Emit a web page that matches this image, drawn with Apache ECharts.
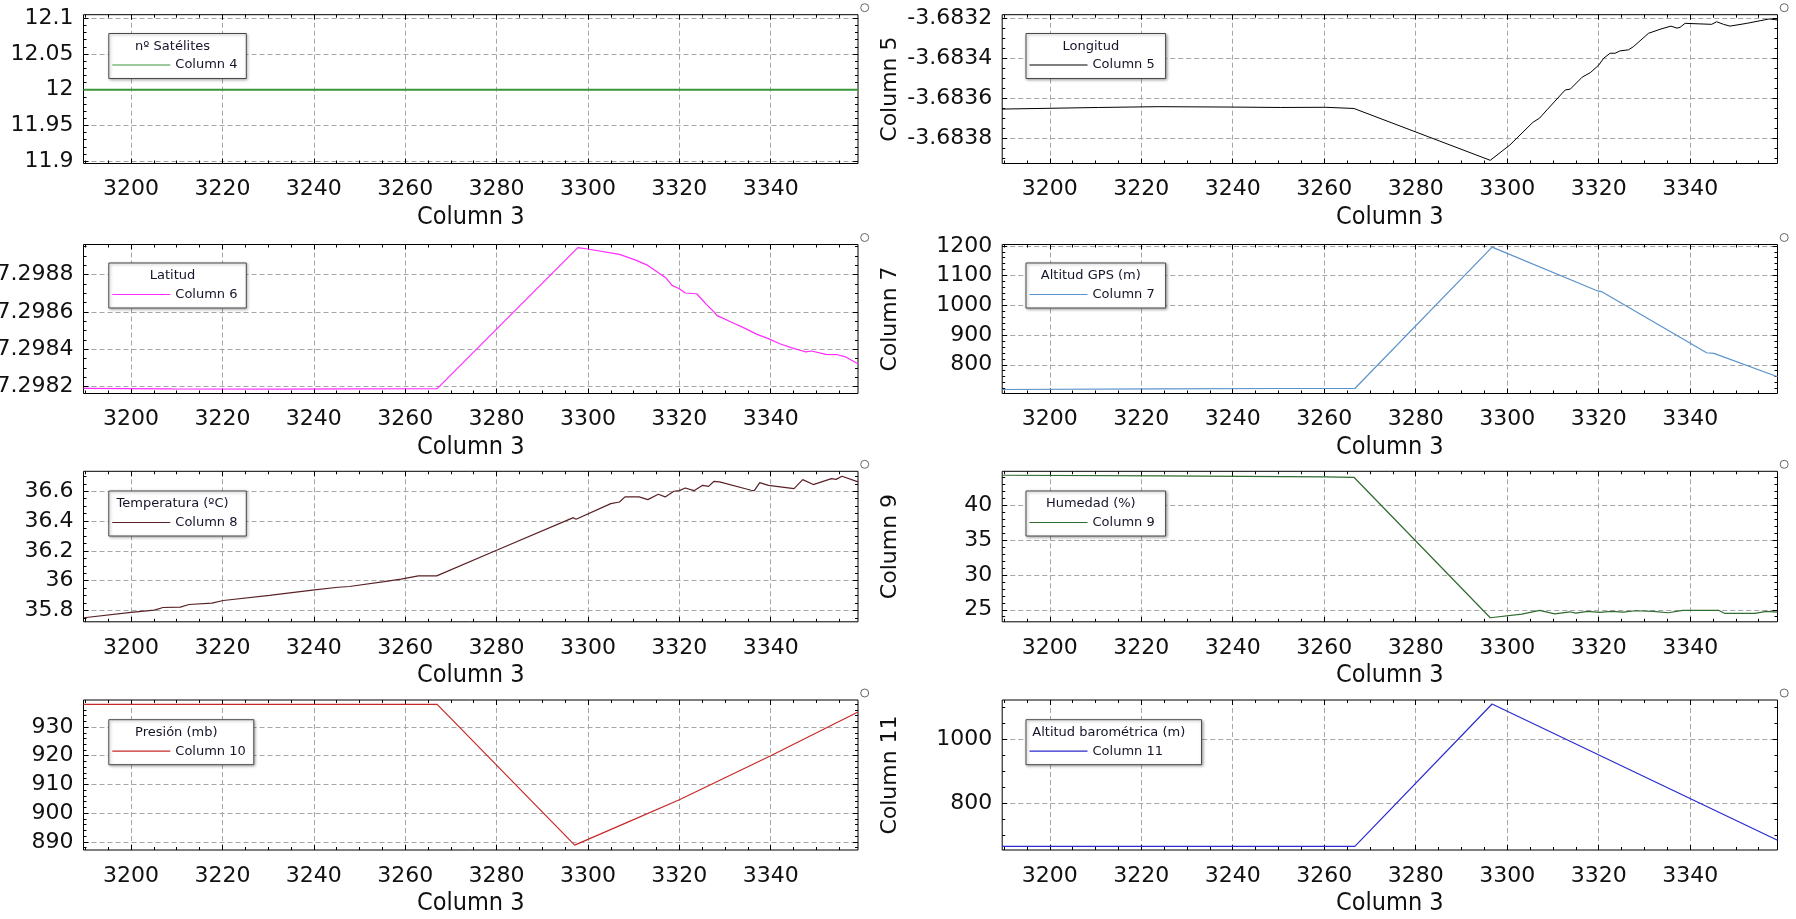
<!DOCTYPE html>
<html><head><meta charset="utf-8">
<script src="https://cdn.jsdelivr.net/npm/echarts@6/dist/echarts.min.js"></script>
<style>html,body{margin:0;padding:0;background:#fff;overflow:hidden}#c{width:1796px;height:919px}</style>
</head><body><div id="c"></div>
<script>
// ---------------- DATA ----------------
const xName = 'Column 3';
const xTicks = [3200, 3220, 3240, 3260, 3280, 3300, 3320, 3340];

const satX = [3189.6, 3359.1];
const satY = [12, 12];

const lonX = [3189.6, 3210.7, 3223.7, 3240.0, 3250.5, 3260.2, 3266.5, 3296.3, 3300.6, 3305.6, 3307.1, 3308.7, 3312.7, 3313.8, 3316.4, 3318.2, 3320.0, 3321.1, 3322.5, 3323.6, 3324.7, 3326.5, 3327.6, 3330.9, 3333.4, 3335.8, 3337.1, 3337.8, 3338.9, 3344.7, 3345.8, 3347.3, 3348.7, 3352.4, 3355.3, 3357.3, 3359.1];
const lonY = [-3.683655, -3.683647, -3.683643, -3.683645, -3.683647, -3.683646, -3.683652, -3.683912, -3.683835, -3.683722, -3.683700, -3.683659, -3.683559, -3.683555, -3.683495, -3.683472, -3.683435, -3.683400, -3.683375, -3.683375, -3.683363, -3.683358, -3.683342, -3.683275, -3.683255, -3.683239, -3.683249, -3.683245, -3.683225, -3.683230, -3.683217, -3.683230, -3.683239, -3.683225, -3.683212, -3.683203, -3.683208];

const latX = [3189.6, 3208.9, 3234.0, 3246.6, 3267.0, 3297.8, 3299.9, 3306.9, 3310.6, 3313.1, 3317.1, 3318.4, 3320.0, 3321.3, 3323.8, 3325.1, 3325.9, 3327.6, 3328.2, 3331.3, 3334.5, 3337.0, 3339.5, 3342.0, 3344.5, 3346.4, 3347.7, 3348.9, 3352.1, 3354.6, 3356.4, 3359.1];
const latY = [37.298191, 37.298188, 37.298186, 37.298188, 37.298189, 37.298945, 37.298938, 37.298909, 37.298877, 37.298850, 37.298782, 37.298743, 37.298725, 37.298702, 37.298698, 37.298663, 37.298641, 37.298600, 37.298582, 37.298546, 37.298511, 37.298480, 37.298457, 37.298430, 37.298409, 37.298395, 37.298386, 37.298391, 37.298373, 37.298371, 37.298359, 37.298323];

const gpsX = [3189.6, 3223.7, 3249.8, 3266.7, 3296.7, 3319.8, 3320.6, 3343.6, 3345.2, 3359.1];
const gpsY = [716.9, 719.1, 720.2, 720.2, 1195.5, 1048.3, 1046.1, 840.4, 838.2, 759.6];

const tempX = [3189.7, 3200.0, 3205.1, 3207.0, 3210.8, 3212.7, 3217.7, 3220.2, 3230.3, 3239.7, 3245.3, 3247.8, 3255.4, 3259.1, 3262.9, 3266.9, 3280.0, 3296.8, 3297.4, 3305.0, 3306.9, 3308.1, 3311.2, 3313.1, 3315.4, 3316.9, 3318.8, 3320.0, 3321.3, 3323.2, 3325.1, 3326.4, 3327.6, 3328.8, 3335.7, 3336.4, 3337.6, 3339.5, 3345.1, 3347.0, 3349.3, 3353.3, 3354.3, 3355.6, 3359.1];
const tempY = [35.751, 35.787, 35.802, 35.820, 35.822, 35.840, 35.849, 35.867, 35.901, 35.936, 35.956, 35.961, 35.993, 36.010, 36.032, 36.032, 36.204, 36.423, 36.412, 36.517, 36.528, 36.562, 36.562, 36.544, 36.580, 36.562, 36.600, 36.604, 36.622, 36.604, 36.640, 36.633, 36.667, 36.663, 36.607, 36.604, 36.658, 36.640, 36.618, 36.678, 36.645, 36.685, 36.680, 36.701, 36.663];

const humX = [3189.8, 3223.7, 3260.2, 3266.5, 3296.3, 3303.2, 3307.1, 3310.4, 3313.7, 3315.0, 3317.6, 3320.2, 3322.8, 3325.4, 3328.0, 3331.9, 3335.2, 3338.4, 3346.3, 3347.6, 3354.1, 3356.7, 3359.1];
const humY = [44.33, 44.23, 44.09, 44.04, 23.85, 24.37, 24.90, 24.42, 24.71, 24.52, 24.76, 24.62, 24.76, 24.66, 24.86, 24.76, 24.57, 24.90, 24.90, 24.47, 24.47, 24.76, 24.66];

const presX = [3189.6, 3267.0, 3297.1, 3300.0, 3308.6, 3320.0, 3340.0, 3359.1];
const presY = [937.9, 937.9, 888.9, 890.9, 896.8, 904.7, 920.0, 935.2];

const baroX = [3189.6, 3266.7, 3296.7, 3359.1];
const baroY = [666.7, 666.7, 1109.4, 685.4];

const yTicksSat  = [11.9, 11.95, 12, 12.05, 12.1];
const yTicksLon  = [-3.6838, -3.6836, -3.6834, -3.6832];
const yTicksLat  = [37.2982, 37.2984, 37.2986, 37.2988];
const yTicksGps  = [800, 900, 1000, 1100, 1200];
const yTicksTemp = [35.8, 36, 36.2, 36.4, 36.6];
const yTicksHum  = [25, 30, 35, 40];
const yTicksPres = [890, 900, 910, 920, 930];
const yTicksBaro = [800, 1000];

const seriesNames = ['Column 4','Column 5','Column 6','Column 7','Column 8','Column 9','Column 10','Column 11'];
const legendTitles = ['nº Satélites','Longitud','Latitud','Altitud GPS (m)','Temperatura (ºC)','Humedad (%)','Presión (mb)','Altitud barométrica (m)'];

// ---------------- PANEL SETUP (styles / layout) ----------------
const panels = [
  {x: satX,  y: satY,  ticks: yTicksSat,  minor: 0.01,    min: 11.8967,   max: 12.105,    color: '#3a963a', w: 2},
  {x: lonX,  y: lonY,  ticks: yTicksLon,  minor: 0.00005, min: -3.683928, max: -3.6831817, color: '#000000', w: 1},
  {x: latX,  y: latY,  ticks: yTicksLat,  minor: 0.00005, min: 37.298163, max: 37.298962, color: '#ff2cff', w: 1.2},
  {x: gpsX,  y: gpsY,  ticks: yTicksGps,  minor: 20,      min: 703.4,     max: 1204.5,    color: '#5b93cc', w: 1.2},
  {x: tempX, y: tempY, ticks: yTicksTemp, minor: 0.05,    min: 35.724,    max: 36.734,    color: '#5a2126', w: 1.2},
  {x: humX,  y: humY,  ticks: yTicksHum,  minor: 1,       min: 23.27,     max: 44.90,     color: '#2f6a2f', w: 1.2},
  {x: presX, y: presY, ticks: yTicksPres, minor: 2,       min: 887.2,     max: 939.4,     color: '#c82828', w: 1.2},
  {x: baroX, y: baroY, ticks: yTicksBaro, minor: 50,      min: 655.2,     max: 1121.9,    color: '#2a2ad0', w: 1.2}
];
const X_MIN = 3189.6, X_MAX = 3359.1, X_MINOR = 5;

const colLeft = [83.5, 1002.2], colWidth = [774.5, 775.3];
const rowTop = [14.7, 244.5, 471.3, 700], rowH = [148.8, 149, 150.5, 150];
const legLeft = [108.8, 1026], legTop = [33.5, 263, 491, 719.7];
const legW = [137.5, 139.6, 137.5, 139.6, 137.5, 139.6, 145, 175.5];

const TICK_FONT = "'DejaVu Sans', sans-serif";
const NAME_FONT = "'DejaVu Sans Condensed', 'DejaVu Sans', sans-serif";
const LEG_FONT = "'DejaVu Sans', sans-serif";
const GRID_LINE = {show: true, lineStyle: {color: '#a6a6a6', type: [5, 3], width: 1}};

function multiples(min, max, step) {
  const out = [];
  for (let k = Math.ceil(min / step - 1e-9); k * step <= max + step * 1e-9; k++) out.push(+(k * step).toFixed(9));
  return out;
}
function fmt(v) { return String(+(+v).toFixed(6)); }

const grids = [], xAxes = [], yAxes = [], series = [], legends = [], graphics = [];

panels.forEach((p, i) => {
  const col = i % 2, row = Math.floor(i / 2);
  grids.push({left: colLeft[col], top: rowTop[row], width: colWidth[col], height: rowH[row],
    show: true, borderColor: '#000', borderWidth: 1, backgroundColor: 'transparent',
    containLabel: false, outerBoundsMode: 'none'});

  const xMinorVals = multiples(X_MIN, X_MAX, X_MINOR);
  const yMinorVals = multiples(p.min, p.max, p.minor);
  const baseX = {type: 'value', gridIndex: i, min: X_MIN, max: X_MAX, axisLine: {show: false}, splitLine: {show: false}};
  const baseY = {type: 'value', gridIndex: i, min: p.min, max: p.max, axisLine: {show: false}, splitLine: {show: false}, scale: true};

  xAxes.push(Object.assign({}, baseX, {position: 'bottom',
    name: xName, nameLocation: 'middle', nameGap: 41,
    nameTextStyle: {fontFamily: NAME_FONT, fontSize: 25, color: '#111'},
    axisTick: {show: true, inside: true, length: 5, customValues: xTicks, lineStyle: {color: '#000'}},
    axisLabel: {show: true, customValues: xTicks, margin: 15, fontFamily: TICK_FONT, fontSize: 22, color: '#111', formatter: fmt},
    splitLine: GRID_LINE}));
  xAxes.push(Object.assign({}, baseX, {position: 'top',
    axisTick: {show: true, inside: true, length: 5, customValues: xTicks, lineStyle: {color: '#000'}},
    axisLabel: {show: false}}));
  xAxes.push(Object.assign({}, baseX, {position: 'bottom',
    axisTick: {show: true, inside: true, length: 3, customValues: xMinorVals, lineStyle: {color: '#000'}},
    axisLabel: {show: false}}));
  xAxes.push(Object.assign({}, baseX, {position: 'top',
    axisTick: {show: true, inside: true, length: 3, customValues: xMinorVals, lineStyle: {color: '#000'}},
    axisLabel: {show: false}}));

  const yMain = Object.assign({}, baseY, {position: 'left',
    axisTick: {show: true, inside: true, length: 5, customValues: p.ticks, lineStyle: {color: '#000'}},
    axisLabel: {show: true, customValues: p.ticks, margin: 10, fontFamily: TICK_FONT, fontSize: 22, color: '#111', formatter: fmt},
    splitLine: GRID_LINE});
  if (col === 1) {
    Object.assign(yMain, {name: seriesNames[i], nameLocation: 'middle', nameGap: 100,
      nameTextStyle: {fontFamily: "'DejaVu Sans', sans-serif", fontSize: 22, color: '#111', lineHeight: 24}});
  }
  yAxes.push(yMain);
  yAxes.push(Object.assign({}, baseY, {position: 'right',
    axisTick: {show: true, inside: true, length: 5, customValues: p.ticks, lineStyle: {color: '#000'}},
    axisLabel: {show: false}}));
  yAxes.push(Object.assign({}, baseY, {position: 'left',
    axisTick: {show: true, inside: true, length: 3, customValues: yMinorVals, lineStyle: {color: '#000'}},
    axisLabel: {show: false}}));
  yAxes.push(Object.assign({}, baseY, {position: 'right',
    axisTick: {show: true, inside: true, length: 3, customValues: yMinorVals, lineStyle: {color: '#000'}},
    axisLabel: {show: false}}));

  series.push({type: 'line', name: seriesNames[i], xAxisIndex: 4 * i, yAxisIndex: 4 * i,
    data: p.x.map((xv, k) => [xv, p.y[k]]), showSymbol: false, symbol: 'none',
    lineStyle: {color: p.color, width: p.w}, itemStyle: {color: p.color}, z: 2, animation: false});

  // legend box
  const bl = legLeft[col], bt = legTop[row], bw = legW[i], bh = 45;
  graphics.push({type: 'rect', z: 5, shape: {x: bl, y: bt, width: bw, height: bh},
    style: {fill: '#fff', stroke: '#4a4a4a', lineWidth: 1, shadowBlur: 3, shadowColor: 'rgba(0,0,0,0.35)', shadowOffsetX: 1, shadowOffsetY: 1}});
  graphics.push({type: 'text', z: 6, x: bl + bw / 2 - 5, y: bt + 13,
    style: {text: legendTitles[i], fill: '#15152a', font: "13px " + LEG_FONT, align: 'center', verticalAlign: 'middle'}});
  legends.push({data: [{name: seriesNames[i], icon: 'rect'}], left: bl + 3.5, top: bt + 32 - 7,
    itemWidth: 58, itemHeight: 1.2, itemGap: 0,
    padding: 0, selectedMode: false, z: 7,
    textStyle: {fontFamily: LEG_FONT, fontSize: 13, color: '#15152a'}});

  // small circle marker at top right
  graphics.push({type: 'circle', z: 6, shape: {cx: colLeft[col] + colWidth[col] + 6.7, cy: rowTop[row] - 7, r: 4},
    style: {fill: '#fff', stroke: '#666', lineWidth: 1}});
});

const chart = echarts.init(document.getElementById('c'), null, {renderer: 'canvas'});
chart.setOption({
  animation: false,
  backgroundColor: '#fff',
  grid: grids, xAxis: xAxes, yAxis: yAxes, series: series, legend: legends,
  graphic: {elements: graphics}
});
</script></body></html>
